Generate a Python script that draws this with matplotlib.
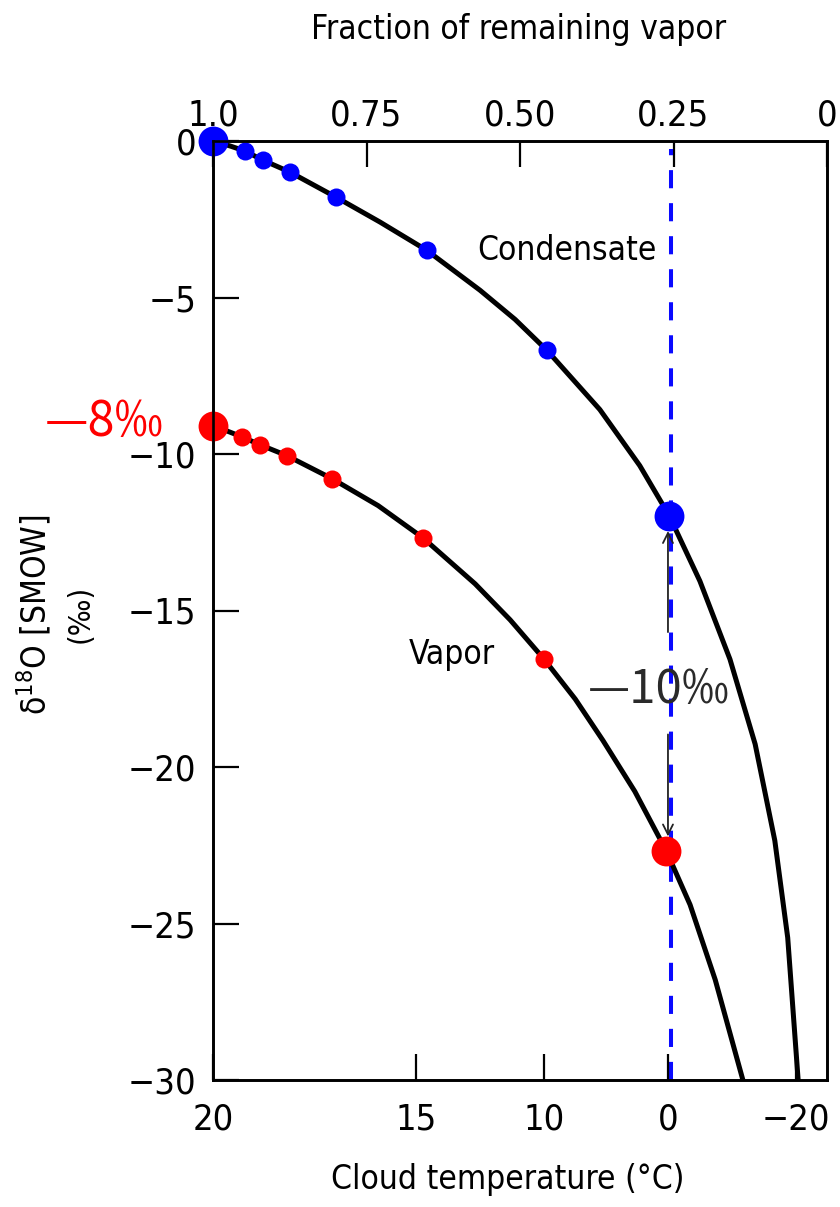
import matplotlib.pyplot as plt

# Rayleigh distillation: delta-18O of vapour and condensate vs fraction of vapour left
cond_f = [1.000, 0.972, 0.948, 0.919, 0.875, 0.800, 0.728, 0.652, 0.565, 0.508,
          0.456, 0.370, 0.305, 0.257, 0.207, 0.158, 0.117, 0.085, 0.064, 0.047]
cond_d = [0.00, -0.16, -0.32, -0.61, -0.99, -1.79, -2.59, -3.49, -4.77, -5.70,
          -6.69, -8.58, -10.37, -11.97, -14.06, -16.56, -19.27, -22.35, -25.45, -30.00]
vap_f = [1.000, 0.953, 0.924, 0.880, 0.806, 0.731, 0.658, 0.573, 0.516, 0.461,
         0.410, 0.365, 0.313, 0.262, 0.223, 0.182, 0.137]
vap_d = [-9.09, -9.45, -9.70, -10.05, -10.79, -11.65, -12.68, -14.15, -15.30, -16.55,
         -17.83, -19.15, -20.78, -22.67, -24.40, -26.80, -30.00]

# marked samples on each curve
cond_pt_f = [1.0, 0.948, 0.919, 0.875, 0.800, 0.652, 0.456, 0.257]
cond_pt_d = [0.0, -0.32, -0.61, -0.99, -1.79, -3.49, -6.69, -11.97]
vap_pt_f = [1.0, 0.953, 0.924, 0.880, 0.806, 0.658, 0.461, 0.262]
vap_pt_d = [-9.09, -9.45, -9.70, -10.05, -10.79, -12.68, -16.55, -22.67]

frac_ticks = [1.0, 0.75, 0.50, 0.25, 0.0]
frac_labels = ["1.0", "0.75", "0.50", "0.25", "0"]
temp_ticks = [1.0, 0.669, 0.461, 0.259, 0.050]
temp_labels = ["20", "15", "10", "0", "\u221220"]
d_ticks = [0, -5, -10, -15, -20, -25, -30]

f_zero = 0.254  # fraction left when the cloud reaches 0 °C

plt.rcParams['font.family'] = ['Liberation Sans Narrow', 'DejaVu Sans']
plt.rcParams['font.stretch'] = 'condensed'
plt.rcParams['mathtext.fontset'] = 'custom'
plt.rcParams['mathtext.rm'] = 'DejaVu Sans:stretch=condensed'

fig = plt.figure(figsize=(8.4, 12.07), dpi=100)
ax = fig.add_axes([213 / 840, 1 - 1080 / 1207, 614 / 840, 939 / 1207])
ax2 = ax.twiny()

ax.plot(cond_f, cond_d, color='black', lw=3.6, zorder=3, solid_joinstyle='round')
ax.plot(vap_f, vap_d, color='black', lw=3.6, zorder=3, solid_joinstyle='round')

ax.axvline(f_zero, ymin=0, ymax=0.992, color='#0a0aff', lw=2.9,
           linestyle=(0, (4.5, 3.7)), zorder=2)

# small sample dots, then the two end points larger
ax.plot(cond_pt_f[1:-1], cond_pt_d[1:-1], 'o', color='#0000ff', ms=13, mew=0,
        zorder=4, clip_on=False)
ax.plot(vap_pt_f[1:-1], vap_pt_d[1:-1], 'o', color='#ff0000', ms=13, mew=0,
        zorder=4, clip_on=False)
ax.plot([cond_pt_f[0], cond_pt_f[-1]], [cond_pt_d[0], cond_pt_d[-1]], 'o',
        color='#0000ff', ms=21.5, mew=0, zorder=5, clip_on=False)
ax.plot([vap_pt_f[0], vap_pt_f[-1]], [vap_pt_d[0], vap_pt_d[-1]], 'o',
        color='#ff0000', ms=21.5, mew=0, zorder=5, clip_on=False)

# gap between the two curves at 0 °C
arrow = dict(arrowstyle='->', color='#222222', lw=1.3, shrinkA=0, shrinkB=0,
             mutation_scale=18)
ax.annotate("", xy=(0.259, -12.46), xytext=(0.259, -15.69), arrowprops=arrow, zorder=6)
ax.annotate("", xy=(0.259, -22.22), xytext=(0.259, -18.96), arrowprops=arrow, zorder=6)

ax.text(0.423, -3.49, "Condensate", fontsize=24, ha='center', va='center')
ax.text(0.611, -16.39, "Vapor", fontsize=24, ha='center', va='center')

ax.set_xlim(1.0, 0.0)
ax.set_ylim(-30, 0)
ax.set_yticks(d_ticks)
ax.set_yticklabels([str(v).replace('-', '\u2212') for v in d_ticks])
ax.xaxis.tick_top()
ax.set_xticks(frac_ticks)
ax.set_xticklabels(frac_labels)
ax.tick_params(axis='x', direction='in', length=19, width=1.6, labelsize=26,
               pad=6, top=True, bottom=False, labeltop=True, labelbottom=False)
ax.tick_params(axis='y', direction='in', length=19, width=1.6, labelsize=26,
               pad=12, left=True, right=False)

ax2.set_xlim(ax.get_xlim())
ax2.xaxis.tick_bottom()
ax2.set_xticks(temp_ticks)
ax2.set_xticklabels(temp_labels)
ax2.tick_params(axis='x', direction='in', length=19, width=1.6, labelsize=26,
                pad=16, top=False, bottom=True, labeltop=False, labelbottom=True)
ax2.set_ylim(ax.get_ylim())

for a in (ax, ax2):
    for s in a.spines.values():
        s.set_linewidth(1.9)

fig.text(519 / 840, 1 - 30 / 1207, "Fraction of remaining vapor", fontsize=24,
         ha='center', va='center')
fig.text(508 / 840, 1 - 1180 / 1207, "Cloud temperature (°C)", fontsize=24,
         ha='center', va='center')
fig.text(34 / 840, 1 - 615 / 1207, "δ$^{18}$O [SMOW]", fontsize=24, rotation=90,
         ha='center', va='center')
fig.text(80 / 840, 1 - 614 / 1207, "(‰)", fontsize=22, rotation=90,
         ha='center', va='center')

cjk = ['Noto Sans CJK SC', 'DejaVu Sans']
fig.text(45 / 840, 1 - 422 / 1207, "—8‰", fontsize=35, color='#ff0000',
         family=cjk, stretch='normal', ha='left', va='center')
fig.text(588 / 840, 1 - 690 / 1207, "—10‰", fontsize=34, color='#2a2a2a',
         family=cjk, stretch='normal', ha='left', va='center', zorder=7)

fig.savefig("out.png", dpi=100, facecolor='white')
